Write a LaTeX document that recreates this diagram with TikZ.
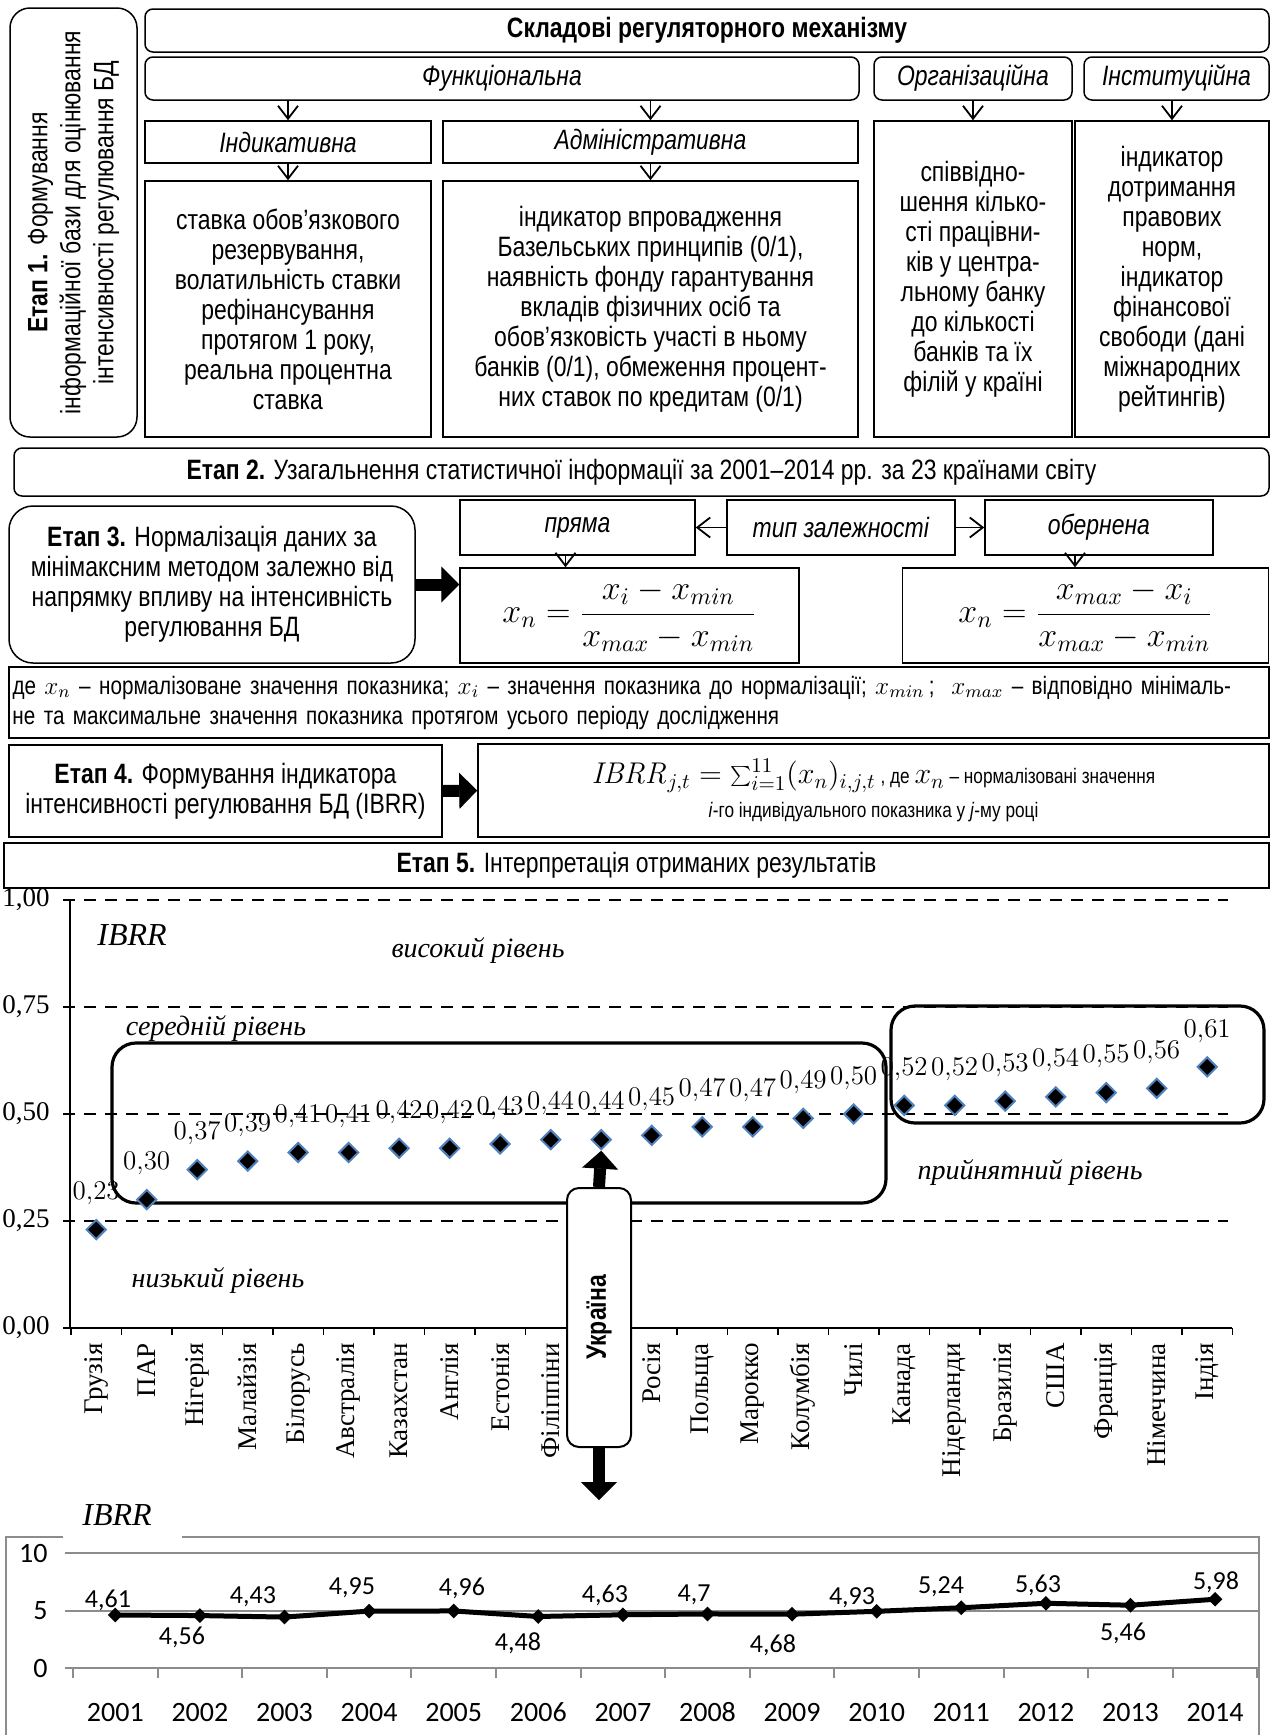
\RequirePackage{fix-cm}
\documentclass[tikz,border=0pt]{standalone}
\usepackage[no-math]{fontspec}
\setmainfont[FakeStretch=0.82]{Liberation Sans}
\newfontfamily\timesf{Liberation Serif}
\newfontfamily\calibf{Carlito}
\usetikzlibrary{arrows.meta,shapes.geometric}
\definecolor{ptblue}{RGB}{79,129,189}
\definecolor{chartgray}{RGB}{140,140,140}

\begin{document}
\begin{tikzpicture}[x=0.5pt,y=-0.5pt,
    box/.style={draw,line width=0.75pt,align=center,inner sep=0pt,font=\fontsize{14}{15}\selectfont},
    rbox/.style={box,rounded corners=4pt},
    vv/.style={line width=0.9pt,-{Straight Barb[length=6.5pt,width=10pt]}},
    fat/.style={line width=6pt,-{Triangle[length=9pt,width=18pt,line width=0.5pt]}},
    lvl/.style={font=\timesf\itshape\fontsize{14}{16}\selectfont},
    vlab/.style={font=\timesf\fontsize{13.5}{14}\selectfont,inner sep=0pt},
    levelline/.style={dash pattern=on 6pt off 4.5pt,line width=1pt},
    ptmark/.style={diamond,fill=black,draw=ptblue,line width=1pt,minimum size=10pt,inner sep=0pt},
    gridln/.style={draw=chartgray,line width=1pt},
    chartframe/.style={draw=chartgray,line width=0.75pt},
    umark/.style={diamond,fill=black,minimum size=7.5pt,inner sep=0pt},
    ulab/.style={font=\calibf\fontsize{13}{14}\selectfont,inner sep=0pt},
  ]
  \useasboundingbox (0,0) rectangle (1270,1735);

  % Etap 1
  \node[rbox,rounded corners=10pt,rotate=90,minimum width=214.5pt,minimum height=63.5pt,font=\fontsize{14}{16.5}\selectfont] (stage1) at (73.5,222.5)
    {\textbf{Етап 1.} Формування\\інформаційної бази для оцінювання\\інтенсивності регулювання БД};
  \node[rbox,minimum width=562pt,minimum height=21.5pt] (head) at (707,30.5) {\textbf{Складові регуляторного механізму}};
  \node[rbox,minimum width=357pt,minimum height=21.5pt] (func) at (502,78.5) {\textit{Функціональна}};
  \node[rbox,minimum width=99pt,minimum height=21.5pt] (org) at (973,78.5) {\textit{Організаційна}};
  \node[rbox,minimum width=92.5pt,minimum height=21.5pt] (inst) at (1176.5,78.5) {\textit{Інституційна}};
  \node[box,minimum width=143pt,minimum height=21pt] (ind) at (288,142) {\textit{Індикативна}};
  \node[box,minimum width=207.5pt,minimum height=21pt] (adm) at (650.5,142) {\textit{Адміністративна}};
  \node[box,minimum width=143pt,minimum height=128pt] (indtxt) at (288,309)
    {ставка обов’язкового\\резервування,\\волатильність ставки\\рефінансування\\протягом 1 року,\\реальна процентна\\ставка};
  \node[box,minimum width=207.5pt,minimum height=128pt] (admtxt) at (650.5,309)
    {індикатор впровадження\\Базельських принципів (0/1),\\наявність фонду гарантування\\вкладів фізичних осіб та\\обов’язковість участі в ньому\\банків (0/1), обмеження процент-\\них ставок по кредитам (0/1)};
  \node[box,minimum width=99pt,minimum height=158pt] (orgtxt) at (973,279)
    {співвідно-\\шення кілько-\\сті працівни-\\ків у центра-\\льному банку\\до кількості\\банків та їх\\філій у країні};
  \node[box,minimum width=97pt,minimum height=158pt] (insttxt) at (1172,279)
    {індикатор\\дотримання\\правових\\норм,\\індикатор\\фінансової\\свободи (дані\\міжнародних\\рейтингів)};
  \draw[vv] (func.south -| ind.north) -- (ind.north);
  \draw[vv] (func.south -| adm.north) -- (adm.north);
  \draw[vv] (ind.south) -- (indtxt.north);
  \draw[vv] (adm.south) -- (admtxt.north);
  \draw[vv] (org.south) -- (orgtxt.north);
  \draw[vv] (inst.south -| insttxt.north) -- (insttxt.north);

  % Etap 2 - 4
  \node[rbox,minimum width=627.5pt,minimum height=24pt] (stage2) at (641.5,472)
    {\textbf{Етап 2.} Узагальнення статистичної інформації за 2001–2014 рр. за 23 країнами світу};
  \node[rbox,rounded corners=12pt,minimum width=203pt,minimum height=78.5pt] (stage3) at (212,584.5)
    {\textbf{Етап 3.} Нормалізація даних за\\мінімаксним методом залежно від\\напрямку впливу на інтенсивність\\регулювання БД};
  \node[box,minimum width=117.5pt,minimum height=27.5pt] (pryama) at (577.5,527.5) {\textit{пряма}};
  \node[box,minimum width=114pt,minimum height=27.5pt] (typ) at (841,527.5) {\textit{тип залежності}};
  \node[box,minimum width=114pt,minimum height=27.5pt] (obern) at (1099,527.5) {\textit{обернена}};
  \node[box,minimum width=169.5pt,minimum height=47.5pt,font=\fontsize{17}{20}\selectfont] (form1) at (629.5,615.5)
    {$\displaystyle x_n=\frac{x_i-x_{min}}{x_{max}-x_{min}}$};
  \node[box,minimum width=183pt,minimum height=47.5pt,font=\fontsize{17}{20}\selectfont] (form2) at (1085.5,615.5)
    {$\displaystyle x_n=\frac{x_{max}-x_i}{x_{max}-x_{min}}$};
  \draw[vv] (typ.west) -- (pryama.east);
  \draw[vv] (typ.east) -- (obern.west);
  \draw[vv] ([xshift=-6pt]pryama.south) -- ([xshift=-6pt]pryama.south |- form1.north);
  \draw[vv] ([xshift=-12pt]obern.south) -- ([xshift=-12pt]obern.south |- form2.north);
  \draw[fat] (stage3.east) -- (stage3.east -| form1.west);
  \node[box,line width=1pt,text width=626pt,inner xsep=2pt,minimum height=35.5pt,align=left,font=\fontsize{12.6}{15}\selectfont] (note) at (638.5,702.5)
    {де $x_n$ – нормалізоване значення показника; $x_i$ – значення показника до нормалізації; $x_{min}$\,; \ $x_{max}$ – відповідно мінімаль-\\не та максимальне значення показника протягом усього періоду дослідження};
  \node[box,minimum width=216.5pt,minimum height=46pt] (stage4) at (225.5,791)
    {\textbf{Етап 4.} Формування індикатора\\інтенсивності регулювання БД (IBRR)};
  \node[box,minimum width=395.5pt,minimum height=46.5pt,font=\fontsize{10.5}{17}\selectfont] (ibrr) at (873.5,790.5)
    {{\fontsize{15}{17}\selectfont$\mathit{IBRR}_{j,t}=\sum_{i=1}^{11}(x_n)_{i,j,t}$} , де {\fontsize{15}{17}\selectfont$x_n$} – нормалізовані значення\\ \textit{i}-го індивідуального показника у \textit{j}-му році};
  \draw[fat] (stage4.east) -- (ibrr.west);
  \node[box,line width=1pt,minimum width=632.5pt,minimum height=22.5pt] (stage5) at (636.5,865.5)
    {\textbf{Етап 5.} Інтерпретація отриманих результатів};

  % levels of IBRR by countries
  \foreach \l/\t [count=\n] in {0/{0,00},0.25/{0,25},0.5/{0,50},0.75/{0,75},1/{1,00}} {
    \node[vlab,anchor=east] (yl\n) at (50,{1328-428*\l}) {\t};
    \draw[line width=0.75pt] (63,{1328-428*\l}) -- (70,{1328-428*\l});
  }
  \foreach \l in {0.25,0.5,0.75,1}
    \draw[levelline] (63,{1328-428*\l}) -- (1228,{1328-428*\l});
  \draw[line width=0.75pt] (70,900) -- (70,1328) -- (1232,1328);
  \foreach \k in {0,...,23}
    \draw[line width=0.75pt] ({71+50.5*\k},1328) -- ++(0,7);
  \node[font=\timesf\itshape\fontsize{16}{18}\selectfont] (ibrrtop) at (132,935) {IBRR};
  \node[lvl] (high) at (478,951) {високий рівень};
  \node[lvl] (mid) at (216,1029) {середній рівень};
  \node[lvl] (low) at (218,1281) {низький рівень};
  \node[lvl] (okay) at (1030,1173) {прийнятний рівень};
  \draw[line width=1.6pt,rounded corners=12pt] (112,1043) rectangle (886,1203);
  \draw[line width=1.6pt,rounded corners=12pt] (891,1006) rectangle (1264,1123);
  \foreach \v [count=\i] in {0.23,0.30,0.37,0.39,0.41,0.41,0.42,0.42,0.43,0.44,0.44,0.45,0.47,0.47,0.49,0.50,0.52,0.52,0.53,0.54,0.55,0.56,0.61} {
    \node[ptmark] (p\i) at ({96.2+50.5*(\i-1)},{1328-428*\v}) {};
    \node[vlab] (v\i) at ({96.2+50.5*(\i-1)},{1328-428*\v-36})
      {\pgfmathprintnumber[fixed,fixed zerofill,precision=2,use comma]{\v}};
  }
  \foreach \c [count=\i] in {Грузія,ПАР,Нігерія,Малайзія,Білорусь,Австралія,Казахстан,Англія,Естонія,Філіппіни,{},Росія,Польща,Марокко,Колумбія,Чилі,Канада,Нідерланди,Бразилія,США,Франція,Німеччина,Індія}
    \node[vlab,rotate=90,anchor=east] (c\i) at ({96.2+50.5*(\i-1)},1343) {\c};

  % Ukraine
  \node[draw,fill=white,line width=1pt,rounded corners=6pt,rotate=90,minimum width=129.5pt,minimum height=32pt,
        inner sep=0pt,font=\bfseries\fontsize{14}{15}\selectfont] (ukr) at (599,1317.5) {Україна};
  \coordinate (ukrdown) at (599,1500);
  \draw[fat] (ukr.east) -- (p11.south);
  \draw[fat] (ukr.west) -- (ukrdown);

  % IBRR of Ukraine by years
  \node[font=\timesf\itshape\fontsize{16}{18}\selectfont] (ibrrbot) at (117,1515) {IBRR};
  \draw[chartframe] (63,1537) -- (6,1537) -- (6,1740);
  \draw[chartframe] (182,1537) -- (1259,1537) -- (1259,1740);
  \foreach \g in {0,5,10} {
    \draw[gridln] (65,{1668-11.5*\g}) -- (1259,{1668-11.5*\g});
    \node[ulab,font=\calibf\fontsize{14}{15}\selectfont,anchor=east] (g\g) at (48,{1668-11.5*\g}) {\g};
  }
  \foreach \k in {0,...,14}
    \draw[gridln] ({73+84.6*\k},1668) -- ++(0,10);
  \foreach \yr [count=\i] in {2001,...,2014}
    \node[ulab,font=\calibf\fontsize{14}{15}\selectfont] (yr\i) at ({115.3+84.6*(\i-1)},1712) {\yr};
  \foreach \v [count=\i] in {4.61,4.56,4.43,4.95,4.96,4.48,4.63,4.7,4.68,4.93,5.24,5.63,5.46,5.98}
    \coordinate (u\i) at ({115.3+84.6*(\i-1)},{1668-11.5*\v});
  \draw[line width=2.5pt,line join=round] (u1) \foreach \i in {2,...,14} { -- (u\i) };
  \foreach \i in {1,...,14}
    \node[umark] (m\i) at (u\i) {};
  \foreach \i/\t/\x/\y in {1/{4,61}/108/1600,2/{4,56}/182/1637,3/{4,43}/253/1597,4/{4,95}/352/1588,
      5/{4,96}/462/1588,6/{4,48}/518/1643,7/{4,63}/605/1595,8/{4,7}/694/1595,9/{4,68}/773/1645,
      10/{4,93}/852/1598,11/{5,24}/941/1587,12/{5,63}/1038/1585,13/{5,46}/1123/1633,14/{5,98}/1216/1582}
    \node[ulab] (w\i) at (\x,\y) {\t};
\end{tikzpicture}
\end{document}
